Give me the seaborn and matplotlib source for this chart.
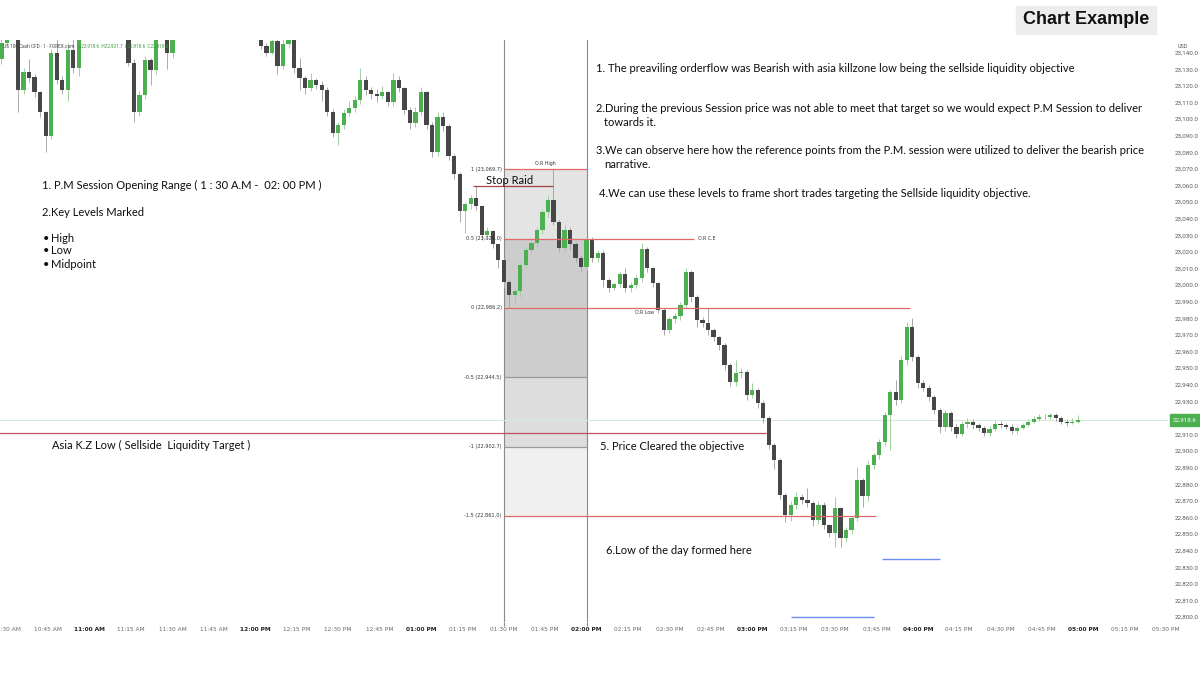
import numpy as np
import pandas as pd
import matplotlib
matplotlib.use("Agg")
import matplotlib.pyplot as plt
from matplotlib.patches import Rectangle
import seaborn as sns

# ---------------------------------------------------------------
# data: 2-minute candles starting 10:28 AM (opens = previous close)
# ---------------------------------------------------------------
session_start = "2024-01-01 10:28"
first_open = 23136.0
closes = [
    23146, 23162, 23158, 23117.5, 23128.6, 23125, 23116, 23104, 23089.5, 23140,
    23123.5, 23117.5, 23141.6, 23131, 23160, 23166, 23170, 23174, 23171, 23168,
    23172, 23169, 23165, 23134, 23104.5, 23114.5, 23135.5, 23129.5, 23150, 23162,
    23139.6, 23160, 23165, 23168, 23172, 23176, 23171, 23174, 23179, 23175,
    23170, 23173, 23177, 23174, 23169, 23172, 23165, 23143.9, 23140, 23147,
    23132, 23145, 23160, 23130.6, 23124.5, 23118.7, 23123.5, 23120.5, 23117.5, 23104.5,
    23091.5, 23096.6, 23103.9, 23106.6, 23111.4, 23123.7, 23117.5, 23115, 23114, 23116,
    23110.2, 23123.5, 23118.7, 23105.4, 23097.6, 23104.5, 23116, 23096.6, 23080, 23101,
    23095.5, 23077.5, 23066.6, 23044.3, 23048.5, 23052.7, 23047.3, 23030.4, 23032.5, 23024.4,
    23015.1, 23001.8, 22994, 22996.5, 23012, 23021, 23025.4, 23033, 23044, 23051.2,
    23038, 23022.5, 23033, 23024.4, 23016.3, 23011, 23027.3, 23016.3, 23019.3, 23003,
    22998.2, 23000.6, 23006.6, 22998.2, 23000, 23004.3, 23021.4, 23010.3, 23001.2, 22985,
    22973, 22979.5, 22981.3, 22988, 23007.8, 22992.8, 22978.9, 22977, 22972.9, 22968.7,
    22963.8, 22951.8, 22941.6, 22947, 22947.6, 22933.7, 22936.7, 22929, 22920, 22903.6,
    22894.6, 22873.5, 22861.4, 22867.5, 22872.3, 22870.5, 22868.7, 22858.4, 22867.5, 22855.4,
    22850.6, 22865.7, 22847.6, 22852.4, 22859.6, 22882.5, 22872.9, 22891.6, 22897.6, 22905.4,
    22921.7, 22935.5, 22930.7, 22954.8, 22974.7, 22956.6, 22941, 22938, 22932.5, 22924.7,
    22914.5, 22922.9, 22914.5, 22910.2, 22916.3, 22917.5, 22915.7, 22913.9, 22910.8, 22913.3,
    22916.3, 22915.7, 22914.5, 22912, 22913.9, 22915.7, 22917.5, 22919.3, 22920.5, 22920.2,
    22921.7, 22919.9, 22917.5, 22916.9, 22917.4, 22918.6,
]
highs = [
    23152, 23168, 23166, 23160, 23131, 23136, 23127, 23117, 23105, 23142,
    23150, 23126, 23146, 23150, 23165, 23172, 23176, 23179, 23178, 23175,
    23177, 23175, 23171, 23168, 23136, 23117, 23138, 23137, 23155, 23167,
    23165, 23166, 23171, 23173, 23177, 23181, 23178, 23179, 23184, 23182,
    23177, 23178, 23182, 23180, 23176, 23177, 23174, 23168, 23146, 23150,
    23149, 23148, 23165, 23162, 23137, 23126, 23127.7, 23125, 23123, 23119,
    23106, 23098, 23106, 23111, 23114, 23131, 23126, 23119, 23118, 23120,
    23117, 23128, 23126, 23119, 23107, 23107, 23119, 23117, 23098, 23104.5,
    23104, 23097, 23079, 23068, 23050, 23054, 23059.4, 23048, 23035, 23033,
    23025, 23016, 23003, 22998, 23014, 23023, 23027, 23035, 23046, 23054,
    23069.7, 23039, 23036, 23035, 23026, 23018, 23028.4, 23029, 23021, 23021,
    23004, 23002, 23008, 23010, 23002, 23006, 23025.5, 23023, 23011, 23002,
    22986, 22981, 22983, 22990, 23010, 23009, 22994, 22981, 22986, 22974,
    22969, 22965, 22953, 22955, 22950, 22949, 22941, 22938, 22931, 22921,
    22905, 22896, 22875, 22870, 22875.5, 22874, 22878, 22870, 22870, 22869,
    22856, 22872.3, 22866, 22854, 22861, 22890.4, 22884, 22894, 22899, 22907,
    22923.5, 22937, 22942.8, 22957, 22977.7, 22980.1, 22958, 22943, 22940, 22934,
    22926, 22925, 22924, 22916, 22918, 22920, 22919, 22917, 22915, 22915,
    22918, 22918, 22917, 22916, 22915, 22917, 22919, 22921, 22922, 22922,
    22923, 22923, 22921, 22919, 22920, 22921.7,
]
lows = [
    23133, 23144, 23152, 23104.5, 23115, 23122, 23113, 23101, 23080, 23088,
    23121, 23115, 23111, 23128, 23126, 23158, 23163, 23167, 23166, 23162,
    23165, 23163, 23158, 23132, 23098, 23102, 23112, 23120.5, 23127, 23148,
    23130, 23137, 23157, 23162, 23166, 23170, 23166, 23168, 23172, 23170,
    23165, 23167, 23171, 23169, 23164, 23166, 23160, 23142, 23138, 23139,
    23127, 23130, 23143, 23128, 23117.5, 23115, 23117, 23118, 23111, 23102,
    23089, 23084.5, 23094, 23102, 23104, 23109, 23114.5, 23112, 23110, 23112,
    23108, 23108, 23116, 23103, 23094, 23095, 23102, 23094, 23077, 23078,
    23093, 23075.5, 23064, 23037.7, 23031.6, 23046, 23045, 23027.4, 23028, 23022,
    23010, 22999, 22986.2, 22988, 22993, 23010, 23019, 23023, 23031, 23041,
    23036, 23020, 23020, 23021, 23014, 23008, 23009, 23014, 23014, 22999,
    22995.8, 22997, 22999, 22996, 22996, 22998, 23002, 23008, 22999, 22983,
    22970, 22971, 22977, 22979, 22986, 22990, 22975, 22975, 22970, 22966,
    22961, 22949, 22939, 22939, 22944, 22931, 22932, 22926, 22917, 22901,
    22889, 22871, 22857, 22858, 22865, 22868, 22866, 22855, 22856, 22853,
    22848, 22842.2, 22842.2, 22845, 22850, 22858, 22866.3, 22870, 22889, 22895,
    22903, 22900.6, 22928, 22929, 22952, 22954, 22938, 22936, 22930, 22922,
    22911, 22912, 22912, 22908, 22909, 22914, 22913, 22912, 22909, 22909,
    22912, 22914, 22913, 22910, 22910, 22913, 22915, 22917, 22918, 22919,
    22919, 22918, 22916, 22915, 22916, 22916.6,
]
assert len(closes) == len(highs) == len(lows)

fib_levels = [1, 0.5, 0, -0.5, -1, -1.5]
asia_kz_low = 22910.8
stop_raid_high = 23059.4
last_price = 22918.6

# ---------------------------------------------------------------
# prepare
# ---------------------------------------------------------------
t0 = pd.Timestamp("2024-01-01 10:30")
times = pd.date_range(session_start, periods=len(closes), freq="2min")
df = pd.DataFrame({"time": times, "close": closes, "high": highs, "low": lows})
df["open"] = [first_open] + closes[:-1]
df["m"] = (df["time"] - t0).dt.total_seconds() / 60
df["up"] = df["close"] >= df["open"]

def mins(hhmm):
    return (pd.Timestamp("2024-01-01 " + hhmm) - t0).total_seconds() / 60

or_start, or_end = mins("13:30"), mins("14:00")
in_or = (df["m"] >= or_start) & (df["m"] < or_end)
or_high = df.loc[in_or, "high"].max()
or_low = df.loc[in_or, "low"].min()
fib_price = {lv: or_low + lv * (or_high - or_low) for lv in fib_levels}

# ---------------------------------------------------------------
# figure
# ---------------------------------------------------------------
sns.set_style("white")
plt.rcParams["font.family"] = ["Lato", "DejaVu Sans"]

W, H = 1200, 675
fig = plt.figure(figsize=(12, 6.75), dpi=100, facecolor="white")
ax = fig.add_axes([0, (H - 622) / H, 1168 / W, (622 - 40) / H])
ax.set_facecolor("white")

def fx(x):
    return x / W

def fy(y):
    return 1 - y / H

# price/time limits from the picture grid
ax.set_ylim(22800 - 5 / 1.66, 22800 + 577 / 1.66)
ax.set_xlim(-7 / 2.76, 1161 / 2.76)

# opening range shading
bands = [(1, 0.5, "#e4e4e4"), (0.5, 0, "#cdcdcd"), (0, -0.5, "#cdcdcd"),
         (-0.5, -1, "#dddddd"), (-1, -1.5, "#f0f0f0")]
for a, b, c in bands:
    ax.fill_between([or_start, or_end], fib_price[b], fib_price[a], color=c, lw=0, zorder=0)

ybot = ax.get_ylim()[0]
for m in (or_start, or_end):
    ax.axvline(m, color="#8a8a8a", lw=0.8, zorder=1)
    ax.vlines(m, ybot - 2.5, ybot, color="#8a8a8a", lw=0.8, clip_on=False)
ax.axhline(last_price, color="#d5ebd5", lw=0.8, zorder=1)

# candles
green, dark = "#4caf50", "#474747"
for up, col, wcol in [(True, green, "#9fcf9f"), (False, dark, "#a8a8a8")]:
    d = df[df["up"] == up]
    ax.vlines(d["m"], d["low"], d["high"], color=wcol, lw=0.7, zorder=2)
    body_lo = np.minimum(d["open"], d["close"])
    body_h = np.maximum(np.abs(d["close"] - d["open"]), 0.4)
    ax.bar(d["m"], body_h, bottom=body_lo, width=1.55, color=col, lw=0, zorder=3)

# fib lines
red, grey = "#e06a6a", "#9a9a9a"
ext = {0.5: mins("14:39"), 0: mins("15:57"), -1.5: mins("15:45")}
for lv in fib_levels:
    c = grey if lv in (-0.5, -1) else red
    ax.hlines(fib_price[lv], or_start, ext.get(lv, or_end), color=c, lw=0.9, zorder=4)
    p = round(fib_price[lv] + 1e-6, 1)
    ax.text(or_start - 0.8, fib_price[lv], f"{lv:g} ({p:,.1f})", ha="right", va="center",
            fontsize=3.6, color="#333333", family="DejaVu Sans", zorder=5)

ax.text(or_start + 15, or_high + 2, "O.R High", ha="center", va="bottom", fontsize=3.4,
        color="#333333", family="DejaVu Sans", zorder=5)
ax.text(ext[0.5] + 1.5, fib_price[0.5], "O.R C.E", ha="left", va="center", fontsize=3.4,
        color="#333333", family="DejaVu Sans", zorder=5)
ax.text(mins("14:21"), or_low - 1.2, "O.R Low", ha="center", va="top", fontsize=3.4,
        color="#333333", family="DejaVu Sans", zorder=5)

# stop raid, asia low, blue marks
ax.hlines(stop_raid_high, mins("13:19"), mins("13:48"), color="#a04848", lw=0.9, zorder=4)
ax.hlines(asia_kz_low, -10, mins("15:05"), color="#c0505a", lw=0.9, zorder=4)
ax.hlines(22835.0, mins("15:47"), mins("16:08"), color="#6b8ef0", lw=1.0, zorder=4)
ax.hlines(22800.3, mins("15:14"), mins("15:44"), color="#6b8ef0", lw=1.0, zorder=4)

# axes ticks (22,920 sits under the last-price tag)
yt = [v for v in range(22800, 23141, 10) if v != 22920]
ax.yaxis.tick_right()
ax.set_yticks(yt)
ax.set_yticklabels([f"{v:,.1f}" for v in yt])
ax.tick_params(axis="y", length=0, pad=4.8, labelsize=4.5, labelcolor="#5a5a5a")

tick_times = pd.date_range("2024-01-01 10:30", "2024-01-01 17:30", freq="15min")
ax.set_xticks([(t - t0).total_seconds() / 60 for t in tick_times])
ax.set_xticklabels(tick_times.strftime("%I:%M %p"))
ax.tick_params(axis="x", length=0, pad=3.5, labelsize=4.2, labelcolor="#6a6a6a")
for lab, t in zip(ax.get_xticklabels(), tick_times):
    if t.minute == 0:
        lab.set_fontweight("bold")
        lab.set_color("#222222")
for lab in ax.get_xticklabels():
    lab.set_family("DejaVu Sans")
for lab in ax.get_yticklabels():
    lab.set_family("Roboto")
sns.despine(ax=ax, left=True, bottom=True, right=True, top=True)
ax.grid(False)

# price tag, legend, usd
fig.patches.append(Rectangle((fx(1170), fy(426)), fx(29), 12 / H, transform=fig.transFigure,
                             color="#4caf50", zorder=5))
fig.text(fx(1184.5), fy(420), f"{last_price:,.1f}", ha="center", va="center", fontsize=4.4,
         color="white", family="Roboto", zorder=6)
fig.text(fx(1178), fy(47), "USD", ha="left", va="center", fontsize=3.9, color="#555555",
         family="Roboto")
leg = fig.text(fx(3), fy(46), "US 100 Cash CFD · 1 · FOREX.com", ha="left", va="center",
               fontsize=3.4, color="#444444", family="Roboto", zorder=0)
fig.canvas.draw()
leg_end = leg.get_window_extent().x1
fig.text((leg_end + 4) / W, fy(46), "O22,918.6  H22,921.7  L22,918.6  C22,918.6", ha="left",
         va="center", fontsize=3.4, color="#3f9a43", family="Roboto", zorder=0)

# title box
fig.patches.append(Rectangle((fx(1016), fy(34)), fx(140), 28 / H, transform=fig.transFigure,
                             color="#ededed", zorder=0))
fig.text(fx(1086), fy(20), "Chart Example", ha="center", va="center", fontsize=13,
         fontweight="bold", color="#111111", family=["Liberation Sans", "DejaVu Sans"])

# annotations
notes = [
    (596, 68, "1. The preaviling orderflow was Bearish with asia killzone low being the sellside liquidity objective"),
    (596, 108, "2.During the previous Session price was not able to meet that target so we would expect P.M Session to deliver"),
    (604, 122, "towards it."),
    (596, 151, "3.We can observe here how the reference points from the P.M. session were utilized to deliver the bearish price"),
    (604, 165, "narrative."),
    (599, 194, "4.We can use these levels to frame short trades targeting the Sellside liquidity objective."),
    (42, 185, "1. P.M Session Opening Range ( 1 : 30 A.M -  02: 00 PM )"),
    (42, 213, "2.Key Levels Marked"),
    (52, 445, "Asia K.Z Low ( Sellside  Liquidity Target )"),
    (600, 446, "5. Price Cleared the objective"),
    (606, 551, "6.Low of the day formed here"),
    (486, 181, "Stop Raid"),
]
for x, y, s in notes:
    fig.text(fx(x), fy(y), s, ha="left", va="center", fontsize=8.0, color="#0d0d0d", zorder=7)

for y, s in [(238, "High"), (251, "Low"), (264, "Midpoint")]:
    fig.text(fx(43), fy(y), "\u2022", ha="left", va="center", fontsize=8.0, color="#0d0d0d")
    fig.text(fx(51), fy(y), s, ha="left", va="center", fontsize=8.0, color="#0d0d0d")

fig.savefig("out.png", dpi=100, facecolor="white")
